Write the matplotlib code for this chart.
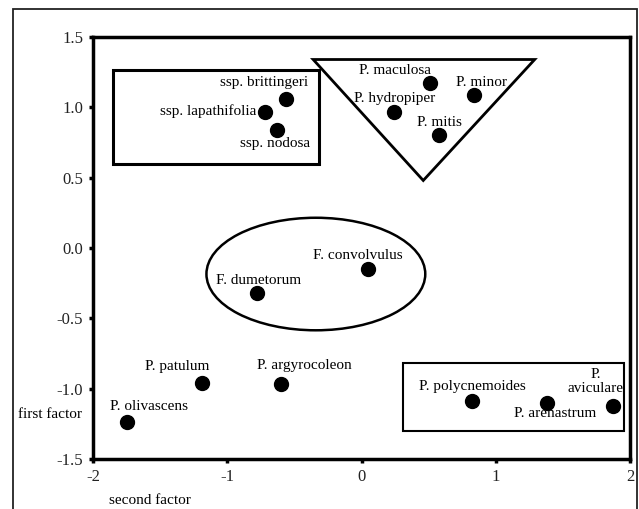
import matplotlib
matplotlib.use("Agg")
import matplotlib.pyplot as plt
from matplotlib.patches import Rectangle, Ellipse, Polygon

plt.rcParams['font.family'] = ['Liberation Serif', 'DejaVu Serif']

# ---- data ----
names = ["ssp. brittingeri", "ssp. lapathifolia", "ssp. nodosa",
         "P. maculosa", "P. minor", "P. hydropiper", "P. mitis",
         "F. convolvulus", "F. dumetorum",
         "P. patulum", "P. argyrocoleon", "P. olivascens",
         "P. polycnemoides", "P. arenastrum", "P.\naviculare"]
second_factor = [-0.56, -0.72, -0.63, 0.51, 0.84, 0.24, 0.58,
                 0.05, -0.78, -1.19, -0.60, -1.75, 0.82, 1.38, 1.87]
first_factor = [1.06, 0.97, 0.84, 1.17, 1.09, 0.97, 0.80,
                -0.15, -0.32, -0.96, -0.97, -1.24, -1.09, -1.10, -1.12]
x_ticks = [-2, -1, 0, 1, 2]
y_ticks = [-1.5, -1.0, -0.5, 0.0, 0.5, 1.0, 1.5]
y_tick_labels = ["-1.5", "-1.0", "-0.5", "0.0", "0.5", "1.0", "1.5"]

# label offsets in pixels (layout)
label_offsets = [(-22, 16), (-57, 0), (-2, -14),
                 (-35, 13), (7, 12), (1, 13), (0, 13),
                 (-10, 14), (2, 13),
                 (-25, 17), (23, 19), (22, 16),
                 (1, 15), (8, -11), (-17, 24)]

fig = plt.figure(figsize=(6.39, 5.09), dpi=100)
# outer frame
fig.patches.append(Rectangle((13/639, -0.05), (637-13)/639, 1.05 - 9/509,
                             transform=fig.transFigure, fill=False,
                             lw=1.3, ec='#222222'))

ax = fig.add_axes([93/639, 1 - 459/509, (630-93)/639, (459-37)/509])
ax.set_xlim(-2, 2)
ax.set_ylim(-1.5, 1.5)
for s in ax.spines.values():
    s.set_linewidth(2.5)
ax.set_xticks(x_ticks)
ax.set_xticklabels([str(t) for t in x_ticks])
ax.set_yticks(y_ticks)
ax.set_yticklabels(y_tick_labels)
ax.tick_params(axis='both', length=3, width=2.5, labelsize=12, pad=4,
               labelcolor='#222222')

ax.plot(second_factor, first_factor, 'o', color='black', ms=10, ls='none')

for n, x, y, (dx, dy) in zip(names, second_factor, first_factor, label_offsets):
    ax.annotate(n, (x, y), xytext=(dx, dy), textcoords='offset pixels',
                ha='center', va='center', fontsize=11, linespacing=1.05)

# group shapes
ax.add_patch(Rectangle((-1.85, 0.60), 1.53, 0.665, fill=False, lw=2.2, ec='black'))
ax.add_patch(Polygon([(-0.36, 1.34), (1.29, 1.34), (0.46, 0.48)], closed=True,
                     fill=False, lw=2.0, ec='black'))
ax.add_patch(Ellipse((-0.34, -0.185), 1.63, 0.80, fill=False, lw=1.8, ec='black'))
ax.add_patch(Rectangle((0.31, -1.30), 1.645, 0.48, fill=False, lw=1.5, ec='black'))

fig.text(50/639, 1 - 415/509, "first factor", ha='center', va='center', fontsize=11)
fig.text(150/639, 1 - 500/509, "second factor", ha='center', va='center', fontsize=11)

fig.savefig("out.png", dpi=100)
